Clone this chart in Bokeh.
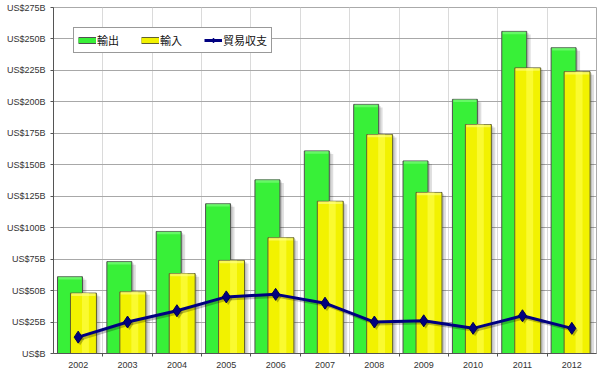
import numpy as np
from bokeh.plotting import figure
from bokeh.models import Range1d, FixedTicker, Legend, LegendItem, ColumnDataSource
from bokeh.transform import dodge
from bokeh.embed import file_html
from bokeh.resources import INLINE

years = ["2002", "2003", "2004", "2005", "2006", "2007", "2008", "2009", "2010", "2011", "2012"]
exports = [61, 73, 97, 119, 138, 161, 198, 153, 202, 256, 243]
imports = [48, 49, 63.5, 74, 92, 121, 174, 128, 182, 227, 224]
balance = [13, 25, 34, 45, 47, 40, 25, 26, 20, 30, 20]
y_ticks = [0, 25, 50, 75, 100, 125, 150, 175, 200, 225, 250, 275]
y_tick_labels = ["US$B", "US$25B", "US$50B", "US$75B", "US$100B", "US$125B", "US$150B",
                 "US$175B", "US$200B", "US$225B", "US$250B", "US$275B"]
series_names = ["輸出", "輸入", "貿易収支"]

GREEN = "#38f038"
YELLOW = "#f2f200"
NAVY = "#000080"
FONT = "Liberation Sans"

idx = np.arange(len(years))
src = ColumnDataSource(dict(
    x=idx,
    exports=exports,
    imports=imports,
    balance=balance,
    exp_cap=np.array(exports) - 2.2,
    imp_cap=np.array(imports) - 2.2,
    exp_sh1=np.array(exports) - 1.2,
    exp_sh2=np.array(exports) - 2.4,
    imp_sh1=np.array(imports) - 1.2,
    imp_sh2=np.array(imports) - 2.4,
    bal_sh=np.array(balance) - 1.6,
))

p = figure(width=600, height=373, output_backend="svg", toolbar_location=None,
           x_range=Range1d(-0.5, len(years) - 0.5), y_range=Range1d(0, 275),
           min_border_left=53, min_border_right=4, min_border_top=7, min_border_bottom=20)
p.background_fill_color = "white"
p.border_fill_color = "white"
p.outline_line_color = "#aaaaaa"

G_OFF, G_W = -0.166, 0.506
Y_OFF, Y_W = 0.107, 0.526

# green bars (exports)
for dx, top in ((0.04, "exp_sh1"), (0.08, "exp_sh2")):
    p.vbar(x=dodge("x", G_OFF + dx), width=G_W, top=top, bottom=0, source=src,
           fill_color="black", fill_alpha=0.13, line_color=None)
g_bar = p.vbar(x=dodge("x", G_OFF), width=G_W, top="exports", bottom=0, source=src,
               fill_color=GREEN, line_color="#505050", line_width=1)
p.vbar(x=dodge("x", G_OFF), width=G_W - 0.04, top="exports", bottom="exp_cap", source=src,
       fill_color="#8cff8c", fill_alpha=0.55, line_color=None)

# yellow bars (imports)
for dx, top in ((0.04, "imp_sh1"), (0.08, "imp_sh2")):
    p.vbar(x=dodge("x", Y_OFF + dx), width=Y_W, top=top, bottom=0, source=src,
           fill_color="black", fill_alpha=0.13, line_color=None)
y_bar = p.vbar(x=dodge("x", Y_OFF), width=Y_W, top="imports", bottom=0, source=src,
               fill_color=YELLOW, line_color="#606030", line_width=1)
p.vbar(x=dodge("x", Y_OFF + 0.04), width=0.14, top="imports", bottom=0, source=src,
       fill_color="#ffff50", fill_alpha=0.6, line_color=None)
p.vbar(x=dodge("x", Y_OFF), width=Y_W - 0.04, top="imports", bottom="imp_cap", source=src,
       fill_color="#ffff9a", fill_alpha=0.55, line_color=None)

# balance line
p.line(x=dodge("x", 0.04), y="bal_sh", source=src, line_color="black", line_alpha=0.25, line_width=3)
p.scatter(x=dodge("x", 0.04), y="bal_sh", source=src, marker="diamond", size=12,
          fill_color="black", fill_alpha=0.25, line_color=None)
b_line = p.line(x="x", y="balance", source=src, line_color=NAVY, line_width=3)
b_pts = p.scatter(x="x", y="balance", source=src, marker="diamond", size=12,
                  fill_color=NAVY, line_color="#000050", line_width=1)

# legend swatches (renderers with no drawable points)
nan = [float("nan")]
sw_g1 = p.line(x=nan, y=nan, line_color="#505050", line_width=7)
sw_g2 = p.line(x=nan, y=nan, line_color=GREEN, line_width=5)
sw_y1 = p.line(x=nan, y=nan, line_color="#606030", line_width=7)
sw_y2 = p.line(x=nan, y=nan, line_color=YELLOW, line_width=5)
sw_b1 = p.line(x=nan, y=nan, line_color=NAVY, line_width=3)
sw_b2 = p.scatter(x=nan, y=nan, marker="diamond", size=8, fill_color=NAVY, line_color=NAVY)

legend = Legend(items=[
    LegendItem(label=series_names[0], renderers=[sw_g1, sw_g2]),
    LegendItem(label=series_names[1], renderers=[sw_y1, sw_y2]),
    LegendItem(label=series_names[2], renderers=[sw_b1, sw_b2]),
], orientation="horizontal", location="top_left")
legend.label_text_font = "Noto Sans CJK JP"
legend.label_text_font_size = "11px"
legend.label_text_color = "#111111"
legend.glyph_width = 18
legend.glyph_height = 12
legend.label_height = 12
legend.label_width = 10
legend.label_standoff = 1
legend.spacing = 22
legend.padding = 4
legend.margin = 20
legend.border_line_color = "#333333"
legend.border_line_width = 1
legend.background_fill_color = "white"
legend.background_fill_alpha = 1
p.add_layout(legend)

# grids
boundaries = [float(i) + 0.5 for i in idx[:-1]]
p.xgrid.ticker = FixedTicker(ticks=boundaries)
p.xgrid.grid_line_color = "#dadada"
p.ygrid.ticker = FixedTicker(ticks=y_ticks)
p.ygrid.grid_line_color = "#a8a8a8"

# axes
p.yaxis.ticker = FixedTicker(ticks=y_ticks)
p.yaxis.major_label_overrides = {int(t): l for t, l in zip(y_ticks, y_tick_labels)}
p.yaxis.major_tick_out = 3
p.yaxis.major_tick_in = 0
p.yaxis.minor_tick_line_color = None
p.yaxis.major_label_standoff = 5

p.xaxis.ticker = FixedTicker(ticks=[int(i) for i in idx], minor_ticks=boundaries)
p.xaxis.major_label_overrides = {int(i): y for i, y in zip(idx, years)}
p.xaxis.major_tick_out = 0
p.xaxis.major_tick_in = 0
p.xaxis.minor_tick_out = 3
p.xaxis.minor_tick_in = 0
p.xaxis.major_label_standoff = 5

for ax in (p.xaxis, p.yaxis):
    ax.axis_line_color = "#555555"
    ax.major_tick_line_color = "#555555"
    ax.major_label_text_font = FONT
    ax.major_label_text_font_size = "9px"
    ax.major_label_text_color = "#333333"
p.xaxis.minor_tick_line_color = "#555555"

open("out.html", "w").write(file_html(p, INLINE))
